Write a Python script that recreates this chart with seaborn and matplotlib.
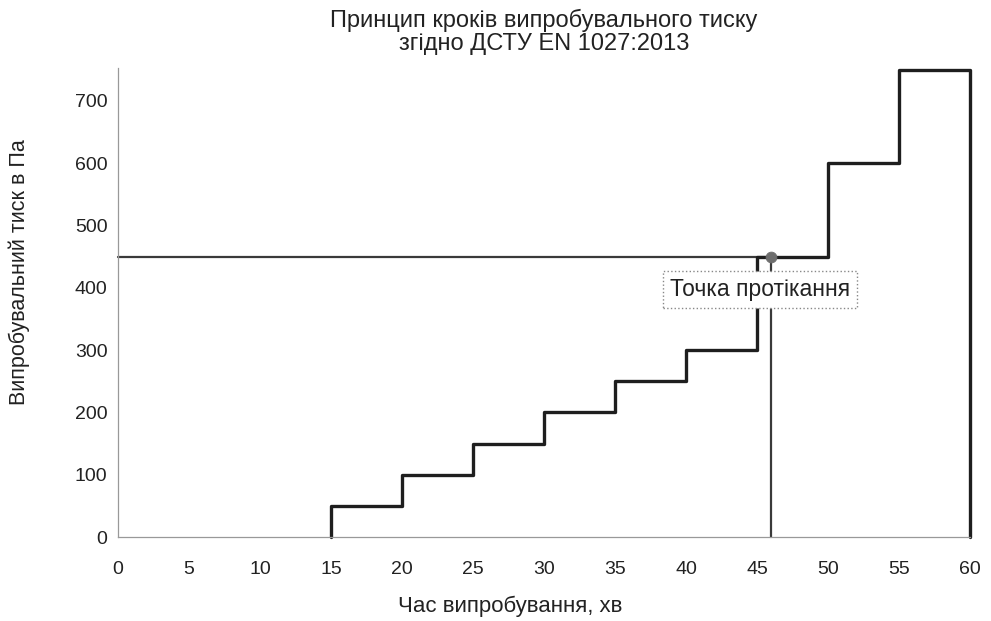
import pandas as pd
import matplotlib.pyplot as plt
import seaborn as sns

###### Data

step_time = [15, 15, 20, 25, 30, 35, 40, 45, 50, 55, 60]
step_pressure = [0, 50, 100, 150, 200, 250, 300, 450, 600, 750, 0]

leak_time = 46
leak_pressure = 450

x_ticks = list(range(0, 61, 5))
y_ticks = list(range(0, 701, 100))

df = pd.DataFrame({"time": step_time, "pressure": step_pressure})
leak = pd.DataFrame({"time": [0, leak_time, leak_time],
                     "pressure": [leak_pressure, leak_pressure, 0]})

###### Plot

sns.set_style("white")
plt.rcParams["font.family"] = ["Liberation Sans", "DejaVu Sans"]

fig = plt.figure(figsize=(9.91, 6.21), dpi=100)
ax = fig.add_axes([0.119, 0.135, 0.860, 0.755])

sns.lineplot(data=leak, x="time", y="pressure", estimator=None, sort=False,
             color="#3a3a3a", linewidth=1.6, clip_on=False, ax=ax)
sns.lineplot(data=df, x="time", y="pressure", estimator=None, sort=False,
             drawstyle="steps-post", color="#1e1e1e", linewidth=2.4,
             clip_on=False, ax=ax)
sns.scatterplot(x=[leak_time], y=[leak_pressure], color="#6e6e6e", s=60,
                edgecolor="#6e6e6e", zorder=5, clip_on=False, ax=ax)

ax.text(45.2, 397, "Точка протікання", ha="center", va="center", fontsize=16.5,
        color="#222222",
        bbox=dict(boxstyle="square,pad=0.32", facecolor="white",
                  edgecolor="#888888", linestyle=":", linewidth=1))

ax.set_xlim(0, 60)
ax.set_ylim(0, 752)
ax.set_xticks(x_ticks)
ax.set_yticks(y_ticks)
ax.tick_params(axis="both", labelsize=14, colors="#222222", length=4, width=0.8)
ax.tick_params(axis="both", color="#999999")
ax.tick_params(axis="x", pad=13)

for side in ["top", "right"]:
    ax.spines[side].set_visible(False)
for side in ["left", "bottom"]:
    ax.spines[side].set_color("#999999")
    ax.spines[side].set_linewidth(0.9)

ax.set_title("Принцип кроків випробувального тиску\nзгідно ДСТУ EN 1027:2013",
             fontsize=17, color="#222222", pad=13, linespacing=1.1)
ax.set_xlabel("Час випробування, хв", fontsize=16, color="#222222")
ax.set_ylabel("Випробувальний тиск в Па", fontsize=15.5, color="#222222")
ax.xaxis.set_label_coords(0.46, -0.125)
ax.yaxis.set_label_coords(-0.103, 0.565)

plt.savefig("out.png", dpi=100)
